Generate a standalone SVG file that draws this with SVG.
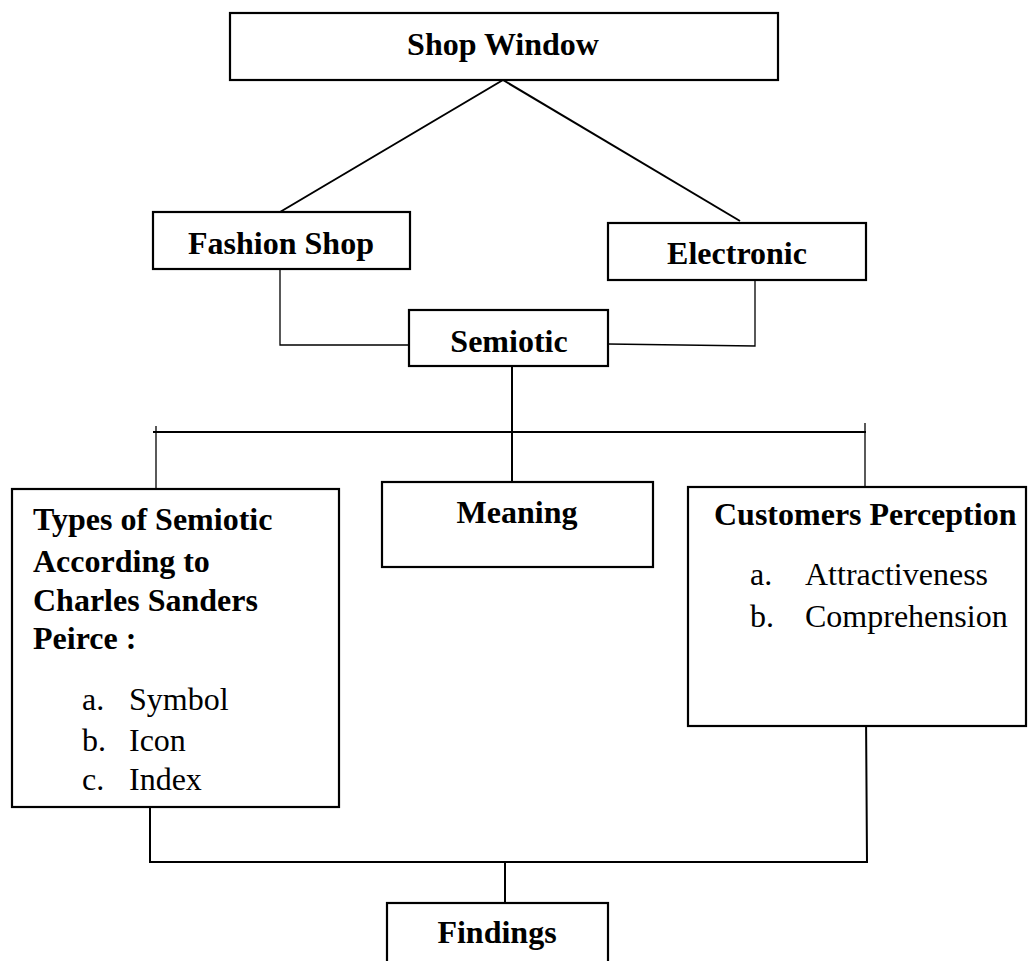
<svg xmlns="http://www.w3.org/2000/svg" width="1028" height="961" viewBox="0 0 1028 961">
<style>
.box{fill:#fff;stroke:#000;stroke-width:2.2}
.c{fill:none;stroke:#000;stroke-width:2}
.t{fill:none;stroke:#000;stroke-width:1.3}
.b{font-family:"Liberation Serif",serif;font-weight:bold;font-size:32px;fill:#000}
.r{font-family:"Liberation Serif",serif;font-size:32px;fill:#000}
.m{text-anchor:middle}
</style>
<rect width="1028" height="961" fill="#fff"/>
<g id="connectors">
<path class="c" d="M503 80 L280 212"/>
<path class="c" d="M503 80 L740 221"/>
<path class="t" d="M280 269 V345 H409"/>
<path class="t" d="M755 280 V346 L608 344"/>
<path class="c" d="M512 366 V482"/>
<path class="c" d="M153 432 H866"/>
<path class="t" d="M156 426 V489"/>
<path class="t" d="M865 423 V487"/>
<path class="c" d="M150 807 V862 H867 L866 712"/>
<path class="c" d="M505 862 V903"/>
</g>
<g id="shop-window">
<rect class="box" x="230" y="13" width="548" height="67"/>
<text class="b m" x="503" y="55" font-size="30">Shop Window</text>
</g>
<g id="fashion-shop">
<rect class="box" x="153" y="212" width="257" height="57"/>
<text class="b m" x="281" y="254">Fashion Shop</text>
</g>
<g id="electronic">
<rect class="box" x="608" y="223" width="258" height="57"/>
<text class="b m" x="737" y="264">Electronic</text>
</g>
<g id="semiotic">
<rect class="box" x="409" y="310" width="199" height="56"/>
<text class="b m" x="509" y="352">Semiotic</text>
</g>
<g id="types">
<rect class="box" x="12" y="489" width="327" height="318"/>
<text class="b" x="33" y="530">Types of Semiotic</text>
<text class="b" x="33" y="572">According to</text>
<text class="b" x="33" y="611">Charles Sanders</text>
<text class="b" x="33" y="649">Peirce :</text>
<text class="r" x="82" y="710">a.</text><text class="r" x="129" y="710">Symbol</text>
<text class="r" x="82" y="751">b.</text><text class="r" x="129" y="751">Icon</text>
<text class="r" x="82" y="790">c.</text><text class="r" x="129" y="790">Index</text>
</g>
<g id="meaning">
<rect class="box" x="382" y="482" width="271" height="85"/>
<text class="b m" x="517" y="523">Meaning</text>
</g>
<g id="customers">
<rect class="box" x="688" y="487" width="338" height="239"/>
<text class="b" x="714" y="525">Customers Perception</text>
<text class="r" x="750" y="585">a.</text><text class="r" x="805" y="585">Attractiveness</text>
<text class="r" x="750" y="627">b.</text><text class="r" x="805" y="627">Comprehension</text>
</g>
<g id="findings">
<rect class="box" x="387" y="903" width="221" height="80"/>
<text class="b m" x="497" y="943">Findings</text>
</g>
</svg>
